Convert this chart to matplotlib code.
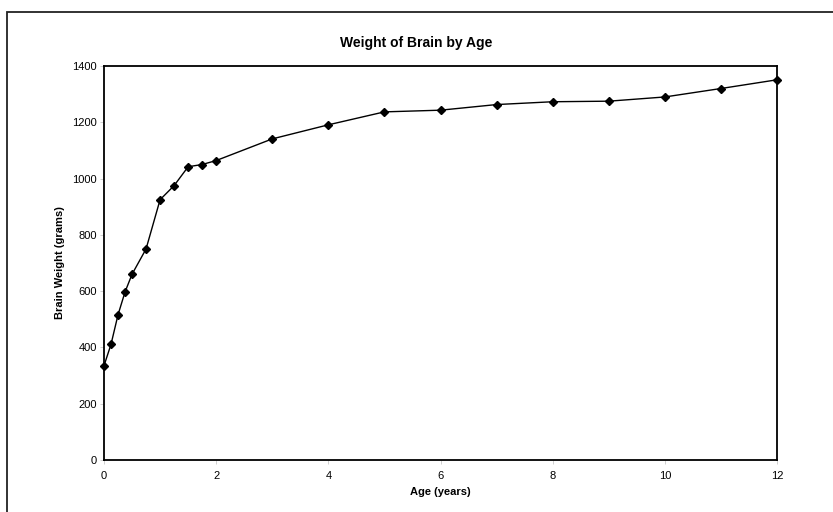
import matplotlib
matplotlib.use("Agg")
import matplotlib.pyplot as plt
from matplotlib.patches import Rectangle

age_years = [0, 0.125, 0.25, 0.375, 0.5, 0.75, 1, 1.25, 1.5, 1.75, 2,
             3, 4, 5, 6, 7, 8, 9, 10, 11, 12]
brain_weight = [335, 411, 516, 597, 660, 750, 925, 975, 1042, 1050, 1064,
                1141, 1191, 1237, 1243, 1263, 1273, 1275, 1290, 1320, 1351]
x_ticks = [0, 2, 4, 6, 8, 10, 12]
y_ticks = [0, 200, 400, 600, 800, 1000, 1200, 1400]

plt.rcParams['font.family'] = ['Liberation Sans', 'DejaVu Sans']

fig = plt.figure(figsize=(8.33, 5.12), dpi=100)
ax = fig.add_axes([104/833, 1-460/512, (777-104)/833, (460-66)/512])

ax.plot(age_years, brain_weight, color='black', linewidth=1.0,
        marker='D', markersize=4.2, markerfacecolor='black',
        markeredgecolor='black', clip_on=False)

ax.set_xlim(0, 12)
ax.set_ylim(0, 1400)
ax.set_xticks(x_ticks)
ax.set_yticks(y_ticks)
ax.set_xticklabels([str(v) for v in x_ticks])
ax.set_yticklabels([str(v) for v in y_ticks])
ax.tick_params(axis='both', labelsize=8, length=3, width=0.6,
               color='#c8c8c8')
ax.tick_params(axis='x', pad=5)
ax.tick_params(axis='y', pad=2)
for s in ax.spines.values():
    s.set_linewidth(1.3)
    s.set_color('black')

ax.set_xlabel('Age (years)', fontsize=8, fontweight='bold', labelpad=4)
ax.set_ylabel('Brain Weight (grams)', fontsize=8, fontweight='bold', labelpad=5)

fig.text(0.5, 1-43/512, 'Weight of Brain by Age', ha='center', va='center',
         fontsize=10, fontweight='bold')

# chart-area frame (left and top edges visible, continuing past the image)
frame = Rectangle((7/833, -0.05), 1.1, 1-12/512+0.05, transform=fig.transFigure,
                  fill=False, edgecolor='#222222', linewidth=1.3, clip_on=False)
fig.patches.append(frame)

fig.savefig('out.png', dpi=100)
